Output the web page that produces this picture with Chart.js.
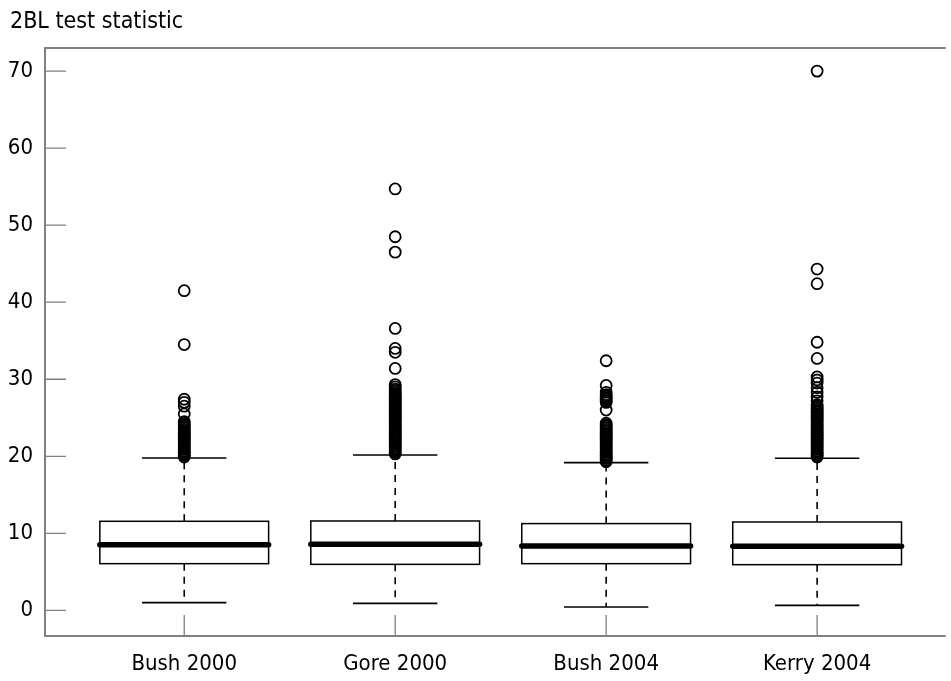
<!DOCTYPE html>
<html>
  <head>
    <title>2BL test statistic</title>
    <style>
      body { margin: 0; background: #fff; }
      #wrap { width: 951px; height: 681px; }
    </style>
    <script src="https://cdn.jsdelivr.net/npm/chart.js"></script>
  </head>
  <body>
    <div id="wrap"><canvas id="myChart"></canvas></div>
    <script>
      const categories = ['Bush 2000', 'Gore 2000', 'Bush 2004', 'Kerry 2004'];
      const whiskerLow = [1.0, 0.91, 0.43, 0.65];
      const q1 = [6.06, 5.97, 6.06, 5.93];
      const medians = [8.53, 8.57, 8.35, 8.31];
      const q3 = [11.56, 11.6, 11.26, 11.47];
      const whiskerHigh = [19.78, 20.17, 19.18, 19.74];
      const yTicks = [0, 10, 20, 30, 40, 50, 60, 70];
      const yTitle = '2BL test statistic';

      // outliers (dense runs are where circles pile up)
      const outliersBush2000 = [19.9, 20.1, 20.3, 20.5, 20.7, 20.9, 21.1, 21.3, 21.5, 21.7, 21.9, 22.1,
        22.3, 22.5, 22.7, 22.9, 23.1, 23.3, 23.5, 23.7, 23.9, 24.1, 24.3, 24.5, 25.5, 26.5, 27.0, 27.4,
        34.5, 41.5];
      const outliersGore2000 = [20.3, 20.5, 20.7, 20.9, 21.1, 21.3, 21.5, 21.7, 21.9, 22.1, 22.3, 22.5,
        22.7, 22.9, 23.1, 23.3, 23.5, 23.7, 23.9, 24.1, 24.3, 24.5, 24.7, 24.9, 25.1, 25.3, 25.5, 25.7,
        25.9, 26.1, 26.3, 26.5, 26.7, 26.9, 27.1, 27.3, 27.5, 27.7, 27.9, 28.1, 28.3, 28.5, 28.7, 29.0,
        29.3, 31.4, 33.5, 34.0, 36.6, 46.5, 48.5, 54.7];
      const outliersBush2004 = [19.3, 19.5, 19.7, 19.9, 20.1, 20.3, 20.5, 20.7, 20.9, 21.1, 21.3, 21.5,
        21.7, 21.9, 22.1, 22.3, 22.5, 22.7, 22.9, 23.1, 23.3, 23.5, 23.7, 23.9, 24.1, 24.3, 26.0, 27.0,
        27.2, 27.4, 27.6, 27.8, 28.0, 28.3, 29.2, 32.4];
      const outliersKerry2004 = [19.9, 20.1, 20.3, 20.5, 20.7, 20.9, 21.1, 21.3, 21.5, 21.7, 21.9, 22.1,
        22.3, 22.5, 22.7, 22.9, 23.1, 23.3, 23.5, 23.7, 23.9, 24.1, 24.3, 24.5, 24.7, 24.9, 25.1, 25.3,
        25.5, 25.7, 25.9, 26.1, 26.3, 26.5, 26.7, 27.2, 27.7, 28.3, 28.9, 29.5, 29.9, 30.3, 32.7, 34.8,
        42.4, 44.3, 70.0];
      const outliers = [outliersBush2000, outliersGore2000, outliersBush2004, outliersKerry2004];

      const fontFamily = "'Liberation Sans Narrow', 'DejaVu Sans Condensed', 'Liberation Sans', sans-serif";
      const boxHalf = 0.4;
      const capHalf = 0.2;

      const datasets = outliers.map((vals, i) => ({
        label: categories[i],
        data: vals.map(v => ({ x: i + 1, y: v })),
        pointStyle: 'circle',
        pointRadius: 5.5,
        pointBorderWidth: 1.8,
        pointBorderColor: '#000',
        pointBackgroundColor: 'rgba(0,0,0,0)'
      }));

      const boxPlugin = {
        id: 'boxes',
        beforeDatasetsDraw(chart) {
          const ctx = chart.ctx;
          const xs = chart.scales.x;
          const ys = chart.scales.y;
          const area = chart.chartArea;
          ctx.save();

          // axis title, top left
          ctx.fillStyle = '#000';
          ctx.font = '23px ' + fontFamily;
          ctx.textAlign = 'left';
          ctx.textBaseline = 'alphabetic';
          ctx.fillText(yTitle, 10, 28);

          // frame: left, top, bottom
          ctx.strokeStyle = '#808080';
          ctx.lineWidth = 2;
          ctx.beginPath();
          ctx.moveTo(area.right + 2, area.top);
          ctx.lineTo(area.left, area.top);
          ctx.lineTo(area.left, area.bottom);
          ctx.lineTo(area.right + 2, area.bottom);
          ctx.stroke();

          // inward tick marks
          ctx.lineWidth = 1.3;
          ctx.beginPath();
          yTicks.forEach(v => {
            const y = ys.getPixelForValue(v);
            ctx.moveTo(area.left, y);
            ctx.lineTo(area.left + 21, y);
          });
          categories.forEach((c, i) => {
            const x = xs.getPixelForValue(i + 1);
            ctx.moveTo(x, area.bottom);
            ctx.lineTo(x, area.bottom - 21);
          });
          ctx.stroke();

          ctx.strokeStyle = '#000';
          categories.forEach((c, i) => {
            const xc = xs.getPixelForValue(i + 1);
            const xl = xs.getPixelForValue(i + 1 - boxHalf);
            const xr = xs.getPixelForValue(i + 1 + boxHalf);
            const cl = xs.getPixelForValue(i + 1 - capHalf);
            const cr = xs.getPixelForValue(i + 1 + capHalf);
            const yq1 = ys.getPixelForValue(q1[i]);
            const yq3 = ys.getPixelForValue(q3[i]);
            const ymed = ys.getPixelForValue(medians[i]);
            const ylo = ys.getPixelForValue(whiskerLow[i]);
            const yhi = ys.getPixelForValue(whiskerHigh[i]);

            // dashed whiskers
            ctx.lineWidth = 1.6;
            ctx.setLineDash([7, 6]);
            ctx.beginPath();
            ctx.moveTo(xc, yq3);
            ctx.lineTo(xc, yhi);
            ctx.moveTo(xc, yq1);
            ctx.lineTo(xc, ylo);
            ctx.stroke();
            ctx.setLineDash([]);

            // whisker caps
            ctx.beginPath();
            ctx.moveTo(cl, yhi);
            ctx.lineTo(cr, yhi);
            ctx.moveTo(cl, ylo);
            ctx.lineTo(cr, ylo);
            ctx.stroke();

            // box
            ctx.lineWidth = 1.5;
            ctx.strokeRect(xl, yq3, xr - xl, yq1 - yq3);

            // median
            ctx.lineWidth = 5.5;
            ctx.lineCap = 'round';
            ctx.beginPath();
            ctx.moveTo(xl, ymed);
            ctx.lineTo(xr, ymed);
            ctx.stroke();
            ctx.lineCap = 'butt';
          });
          ctx.restore();
        }
      };

      const ctx = document.getElementById('myChart').getContext('2d');
      new Chart(ctx, {
        type: 'scatter',
        data: { datasets },
        options: {
          responsive: true,
          maintainAspectRatio: false,
          animation: false,
          layout: { padding: { left: 0, right: 0, top: 48, bottom: 0 } },
          plugins: {
            legend: { display: false },
            tooltip: { enabled: false },
            title: { display: false }
          },
          scales: {
            x: {
              type: 'linear',
              min: 0.34,
              max: 4.6,
              grid: { display: false, drawTicks: false },
              border: { display: false },
              afterBuildTicks: scale => {
                scale.ticks = categories.map((c, i) => ({ value: i + 1 }));
              },
              afterFit: scale => { scale.height = 45; },
              ticks: {
                color: '#000',
                padding: 15,
                maxRotation: 0,
                autoSkip: false,
                font: { family: fontFamily, size: 22 },
                callback: (v, idx) => categories[idx]
              }
            },
            y: {
              type: 'linear',
              min: -3.33,
              max: 73,
              grid: { display: false, drawTicks: false },
              border: { display: false },
              afterBuildTicks: scale => {
                scale.ticks = yTicks.map(v => ({ value: v }));
              },
              afterFit: scale => { scale.width = 45; },
              ticks: {
                color: '#000',
                padding: 12,
                font: { family: fontFamily, size: 22 }
              }
            }
          }
        },
        plugins: [boxPlugin]
      });
    </script>
  </body>
</html>
